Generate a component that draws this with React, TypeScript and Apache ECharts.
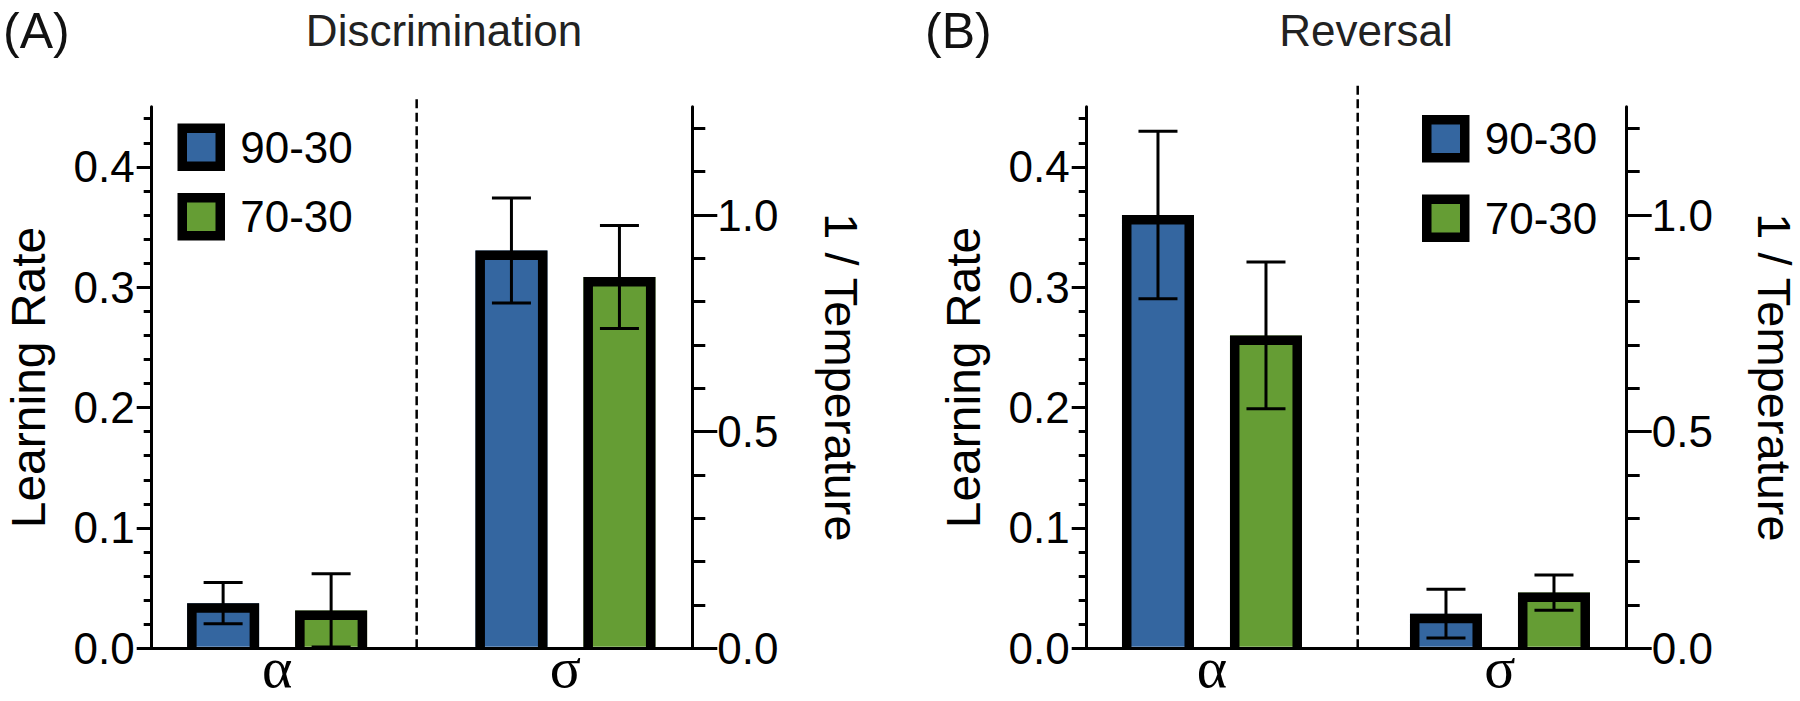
import React, { useEffect, useRef } from 'react';
import * as echarts from 'echarts';

// ---------- data ----------
const categories = ['α', 'σ'];
const groupNames = ['90-30', '70-30'];
const panelTitles = ['Discrimination', 'Reversal'];
const panelLetters = ['(A)', '(B)'];
const leftAxisName = 'Learning Rate';
const rightAxisName = '1 / Temperature';

// values per category: [α on "Learning Rate" axis, σ on "1 / Temperature" axis]
const discMean9030 = [0.0375, 0.918];
const discErr9030 = [0.0172, 0.121];
const discMean7030 = [0.0315, 0.857];
const discErr7030 = [0.0305, 0.119];

const revMean9030 = [0.36, 0.08];
const revErr9030 = [0.0695, 0.056];
const revMean7030 = [0.26, 0.1285];
const revErr7030 = [0.061, 0.0405];

const leftMax = 0.45;
const rightMax = 1.25;
const leftMajorTicks = [0, 0.1, 0.2, 0.3, 0.4];
const leftMinorTicks = [0.02, 0.04, 0.06, 0.08, 0.12, 0.14, 0.16, 0.18, 0.22, 0.24, 0.26, 0.28, 0.32, 0.34, 0.36, 0.38, 0.42, 0.44];
const rightMajorTicks = [0, 0.5, 1.0];
const rightMinorTicks = [0.1, 0.2, 0.3, 0.4, 0.6, 0.7, 0.8, 0.9, 1.1, 1.2];

// ---------- styles / layout ----------
const FONT = 'Liberation Sans, Arial, Helvetica, sans-serif';
const SERIF = 'Liberation Serif, Times New Roman, serif';
const BLUE = '#3466A0';
const GREEN = '#659D34';
const groupColors = [BLUE, GREEN];
const groupOffsets = [-54, 54];
const BAR_W = 72;
const BORDER = 9.5;
const CAP_W = 39;
const ERR_W = 3;
const GRID_TOP = 106.7;
const GRID_H = 541.6;
const X_MIN = -0.435;
const X_MAX = 1.44;

const panels = [
  {
    mean: [discMean9030, discMean7030],
    err: [discErr9030, discErr7030],
    left: 151.7, width: 540.6,
    sepX: 0.484, sepTop: 0.458,
    titleX: 444, letterX: 3,
    legendLeft: 177.5, legendTop: 123.5, legendGap: 22,
    leftNameGap: 99, rightNameGap: 126,
  },
  {
    mean: [revMean9030, revMean7030],
    err: [revErr9030, revErr7030],
    left: 1086.7, width: 540,
    sepX: 0.506, sepTop: 0.469,
    titleX: 1366, letterX: 925,
    legendLeft: 1422, legendTop: 115, legendGap: 32,
    leftNameGap: 99, rightNameGap: 124,
  },
];

function makeBarRenderer(offset: number, color: string) {
  return (_params: any, api: any) => {
    const c = api.value(0);
    const v = api.value(1);
    const e = api.value(2);
    const basePt = api.coord([c, 0]);
    const base = basePt[1];
    const cx = basePt[0] + offset;
    const top = api.coord([c, v])[1];
    const hi = api.coord([c, v + e])[1];
    const lo = api.coord([c, Math.max(v - e, 0)])[1];
    const half = BAR_W / 2;
    const b = BORDER / 2;
    const black = '#000';
    return {
      type: 'group',
      children: [
        { type: 'rect', shape: { x: cx - half, y: top, width: BAR_W, height: base - top - 1.5 }, style: { fill: color } },
        {
          type: 'polyline',
          shape: { points: [[cx - half + b, base], [cx - half + b, top + b], [cx + half - b, top + b], [cx + half - b, base]] },
          style: { fill: null, stroke: black, lineWidth: BORDER, lineJoin: 'miter' },
        },
        { type: 'line', shape: { x1: cx, y1: hi, x2: cx, y2: lo }, style: { stroke: black, lineWidth: ERR_W } },
        { type: 'line', shape: { x1: cx - CAP_W / 2, y1: hi, x2: cx + CAP_W / 2, y2: hi }, style: { stroke: black, lineWidth: ERR_W } },
        { type: 'line', shape: { x1: cx - CAP_W / 2, y1: lo, x2: cx + CAP_W / 2, y2: lo }, style: { stroke: black, lineWidth: ERR_W } },
      ],
    };
  };
}

function sepRenderer(_params: any, api: any) {
  const x = api.value(0);
  const p0 = api.coord([x, 0]);
  const p1 = api.coord([x, api.value(1)]);
  return {
    type: 'line',
    shape: { x1: p0[0], y1: p0[1], x2: p1[0], y2: p1[1] },
    style: { stroke: '#000', lineWidth: 2.5, lineDash: [9, 4.5] },
  };
}

function buildOption() {
  const grid: any[] = [];
  const xAxis: any[] = [];
  const yAxis: any[] = [];
  const series: any[] = [];
  const legend: any[] = [];
  const graphic: any[] = [];
  const black = '#000';
  const tickStyle = { color: black, width: 3 };

  panels.forEach((p, pi) => {
    grid.push({ left: p.left, top: GRID_TOP, width: p.width, height: GRID_H, containLabel: false, outerBoundsMode: 'none' });
    xAxis.push({
      type: 'value', gridIndex: pi, min: X_MIN, max: X_MAX,
      axisLine: { show: true, onZero: false, lineStyle: { color: black, width: 3 } },
      axisTick: { show: false }, splitLine: { show: false },
      axisLabel: {
        show: true, customValues: categories.map((_, i) => i),
        formatter: (v: number) => categories[Math.round(v)] ?? '',
        fontFamily: SERIF, fontSize: 58, lineHeight: 36, color: black, margin: 1,
      },
    });
    const baseY = { type: 'value', gridIndex: pi, min: 0, splitLine: { show: false } };
    // left main
    yAxis.push({
      ...baseY, max: leftMax, position: 'left',
      axisLine: { show: true, onZero: false, lineStyle: { color: black, width: 3 } },
      axisTick: { show: true, customValues: leftMajorTicks, length: 15, lineStyle: tickStyle },
      axisLabel: { show: true, customValues: leftMajorTicks, formatter: (v: number) => v.toFixed(1), margin: 17, fontSize: 44, fontFamily: FONT, color: black },
      name: leftAxisName, nameLocation: 'middle', nameRotate: 90, nameGap: p.leftNameGap,
      nameTextStyle: { fontSize: 48, fontFamily: FONT, color: black },
    });
    // left minor
    yAxis.push({
      ...baseY, max: leftMax, position: 'left',
      axisLine: { show: false, onZero: false },
      axisTick: { show: true, customValues: leftMinorTicks, length: 8, lineStyle: tickStyle },
      axisLabel: { show: false },
    });
    // right main
    yAxis.push({
      ...baseY, max: rightMax, position: 'right',
      axisLine: { show: true, onZero: false, lineStyle: { color: black, width: 3 } },
      axisTick: { show: true, customValues: rightMajorTicks, length: 25, lineStyle: tickStyle },
      axisLabel: { show: true, customValues: rightMajorTicks, formatter: (v: number) => v.toFixed(1), margin: 25, fontSize: 44, fontFamily: FONT, color: black },
      name: rightAxisName, nameLocation: 'middle', nameRotate: -90, nameGap: p.rightNameGap,
      nameTextStyle: { fontSize: 47, fontFamily: FONT, color: black },
    });
    // right minor
    yAxis.push({
      ...baseY, max: rightMax, position: 'right',
      axisLine: { show: false, onZero: false },
      axisTick: { show: true, customValues: rightMinorTicks, length: 13, lineStyle: tickStyle },
      axisLabel: { show: false },
    });

    // separator
    series.push({
      type: 'custom', name: 'sep' + pi, silent: true, clip: false,
      xAxisIndex: pi, yAxisIndex: pi * 4,
      data: [[p.sepX, p.sepTop]],
      renderItem: sepRenderer,
    });

    // bars
    groupNames.forEach((g, gi) => {
      categories.forEach((_, ci) => {
        series.push({
          type: 'custom', name: g, silent: true, clip: false,
          xAxisIndex: pi, yAxisIndex: ci === 0 ? pi * 4 : pi * 4 + 2,
          itemStyle: { color: groupColors[gi] },
          data: [[ci, p.mean[gi][ci], p.err[gi][ci]]],
          renderItem: makeBarRenderer(groupOffsets[gi], groupColors[gi]),
          z: 3,
        });
      });
    });

    legend.push({
      show: true, data: groupNames, orient: 'vertical',
      left: p.legendLeft, top: p.legendTop, padding: 0,
      itemGap: p.legendGap, itemWidth: 38, itemHeight: 38, icon: 'rect',
      selectedMode: false,
      itemStyle: { borderColor: black, borderWidth: BORDER },
      textStyle: { fontSize: 44, lineHeight: 44, fontFamily: FONT, color: black, padding: [0, 0, 0, 15] },
    });

    graphic.push({
      type: 'text', x: p.letterX, y: 31,
      style: { text: panelLetters[pi], fontSize: 50, fontFamily: FONT, fill: '#111', align: 'left', verticalAlign: 'middle' },
    });
    graphic.push({
      type: 'text', x: p.titleX, y: 30,
      style: { text: panelTitles[pi], fontSize: 44, fontFamily: FONT, fill: '#222', align: 'center', verticalAlign: 'middle' },
    });
  });

  return { animation: false, backgroundColor: '#fff', grid, xAxis, yAxis, series, legend, graphic };
}

export default function App() {
  const ref = useRef<HTMLDivElement>(null);
  useEffect(() => {
    if (!ref.current) return;
    const chart = echarts.init(ref.current, null, { renderer: 'svg', width: 1800, height: 701 });
    chart.setOption(buildOption() as any);
    return () => chart.dispose();
  }, []);
  return <div ref={ref} style={{ position: 'absolute', left: 0, top: 0, width: 1800, height: 701 }} />;
}
